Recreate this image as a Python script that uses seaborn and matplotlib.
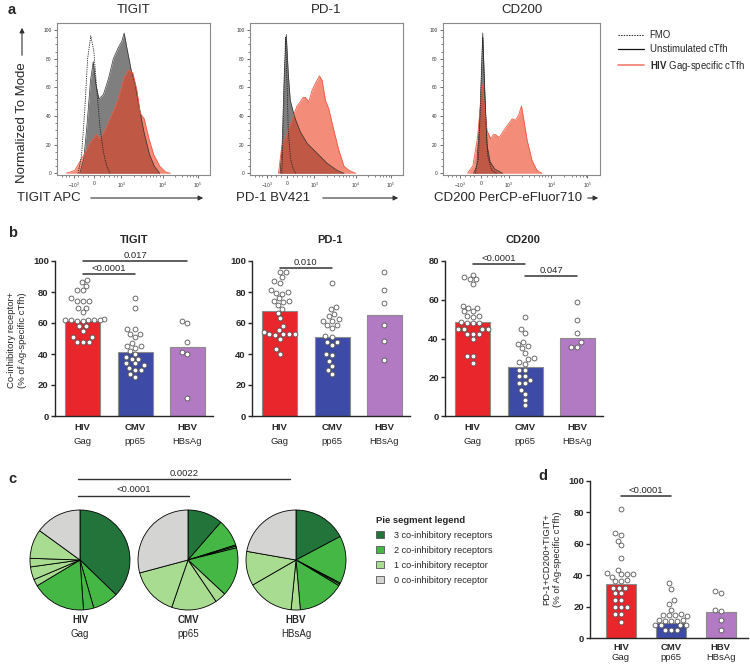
import numpy as np
import pandas as pd
import matplotlib
matplotlib.use("Agg")
import matplotlib.pyplot as plt
import seaborn as sns
from matplotlib.lines import Line2D
from matplotlib.patches import Patch, FancyArrowPatch

# ------------------------------------------------------------------
# data
# ------------------------------------------------------------------
groups = ["HIV", "CMV", "HBV"]
antigens = ["Gag", "pp65", "HBsAg"]
bar_colors = ["#e8262b", "#3d4ba6", "#b27ac3"]

# panel a : histograms (x = channel position 0-100, y = % of mode)
tigit_fmo_x = [13.8, 16.0, 18.2, 20.0, 22.1, 24.1, 25.9, 28.1, 30.3, 32.5, 34.6]
tigit_fmo_y = [0, 12, 45, 80, 96, 85, 60, 32, 15, 5, 0]
tigit_unst_x = [14.9, 17.5, 19.7, 21.9, 23.7, 25.4, 27.4, 30.3, 33.6, 36.8, 40.1,
                42.3, 43.9, 45.6, 48.5, 51.1, 53.9, 57.0, 60.5, 63.6, 67.1]
tigit_unst_y = [0, 10, 35, 65, 78, 62, 52, 55, 66, 80, 88, 92, 98, 88, 72, 62,
                45, 28, 13, 5, 0]
tigit_hiv_x = [6.1, 11.6, 16.0, 19.3, 22.6, 25.9, 28.1, 31.4, 34.6, 37.9, 39.0, 41.2,
               43.9, 46.7, 49.6, 52.2, 54.4, 57.0, 59.9, 63.2, 67.1, 70.8, 74.1]
tigit_hiv_y = [0, 2, 10, 16, 23, 27, 24, 30, 38, 46, 49, 56, 67, 72, 70, 58, 42,
               38, 25, 13, 5, 1, 0]

pd1_fmo_x = [20.8, 21.9, 23.2, 24.3, 25.0, 26.5, 28.5, 30.0]
pd1_fmo_y = [0, 40, 95, 60, 30, 10, 2, 0]
pd1_unst_x = [19.7, 21.0, 22.4, 23.7, 25.0, 26.3, 28.5, 29.6, 32.9, 37.3, 43.9,
              50.4, 57.0, 61.4]
pd1_unst_y = [0, 20, 70, 97, 70, 51, 42, 38, 29, 21, 14, 7, 2, 0]
pd1_hiv_x = [18.6, 20.8, 24.1, 27.4, 30.7, 32.9, 34.6, 36.2, 38.4, 40.6, 42.8,
             45.4, 47.1, 49.3, 51.5, 54.8, 58.1, 61.4, 64.7, 69.1]
pd1_hiv_y = [0, 19, 27, 37, 47, 50, 53, 53, 50, 58, 63, 68, 65, 51, 45, 30, 16,
             5, 2, 0]

cd200_fmo_x = [20.5, 22.5, 24.0, 25.3, 26.8, 28.5, 31.0, 34.0]
cd200_fmo_y = [0, 10, 50, 95, 50, 12, 2, 0]
cd200_unst_x = [19.5, 21.5, 23.5, 25.3, 26.5, 28.0, 30.0, 33.0, 38.0]
cd200_unst_y = [0, 5, 40, 98, 60, 20, 8, 3, 0]
cd200_hiv_x = [15.6, 19.0, 22.0, 24.0, 25.1, 26.5, 28.0, 30.4, 32.0, 33.5, 35.7,
               38.8, 42.0, 44.1, 46.2, 48.3, 50.0, 51.5, 53.6, 56.7, 59.9, 63.0]
cd200_hiv_y = [0, 5, 25, 50, 62, 45, 30, 24, 27, 27, 25, 30, 35, 38, 37, 41, 47,
               37, 23, 9, 2, 0]

hist_tick_pos = [11, 24, 42, 69, 92]
hist_tick_lab = [r"$-10^3$", "0", r"$10^3$", r"$10^4$", r"$10^5$"]

# panel b : co-inhibitory receptor+ (% of Ag-specific cTfh)
tigit_hiv = [88, 86.5, 84, 81, 81, 76, 74, 74.5, 74.5, 70, 69.5, 67, 62.5, 62, 62,
             62, 62, 62, 61.5, 61, 58, 58, 55, 51, 51, 48, 48, 48]
tigit_cmv = [76, 70, 56, 56, 53, 53, 51, 47, 45, 45, 44, 42, 40, 38, 37, 37, 34,
             34, 33, 31, 30, 30, 27, 25]
tigit_hbv = [61.5, 60, 47.5, 41.5, 40, 11.5]
tigit_bars = [61.5, 41.3, 44.3]

pd1_hiv = [93, 93, 89.5, 87, 86, 81, 80, 79.5, 79, 76, 74, 74, 73.5, 71.5, 69,
           66.5, 63, 58, 55.5, 54, 53, 53, 53, 53, 52.5, 50, 43, 40]
pd1_cmv = [86, 70.5, 69, 66, 64.5, 62.5, 61.5, 61.5, 59, 59, 57, 51.5, 51, 48, 48,
           46, 39.5, 40, 35.5, 32.5, 29.5, 27]
pd1_hbv = [93, 81.5, 73, 58.5, 48.5, 36]
pd1_bars = [67.5, 51, 65.4]

cd200_hiv = [73, 72, 70.5, 70.5, 68, 57, 56, 56, 54, 54, 51.5, 51.5, 51, 48.5, 48,
             48, 48, 45, 45, 45, 45, 42.5, 42.5, 42.5, 39.5, 31, 31, 27.5]
cd200_cmv = [51, 45, 43, 38, 37, 36, 35, 32.5, 30, 29.5, 28, 27, 23.5, 23.5, 20.5,
             20.5, 18.5, 17, 17, 13.5, 11.5, 8.5, 5.5]
cd200_hbv = [59, 49.5, 43, 38, 35.5, 35.5]
cd200_bars = [48.5, 25.3, 40.4]

# panel d : PD-1+CD200+TIGIT+
triple_hiv = [82, 67, 65.5, 62, 59, 51, 43.5, 41.5, 41, 41, 40.5, 39, 37, 36, 36,
              32, 32, 32, 28.5, 28.5, 24.5, 24.5, 20, 20, 20, 15.5, 15.5, 10.5]
triple_cmv = [35, 31.5, 24, 21.5, 18, 15, 14.5, 14.5, 14.5, 14, 11.5, 11.5, 11, 11,
              11, 8, 8, 8, 8, 5, 5, 5]
triple_hbv = [30, 28.5, 18, 17, 11.5, 5]
triple_bars = [34.3, 9.6, 16.6]

# panel c : pie segments (degrees, clockwise from 12 o'clock)
pie_hiv = [134, 30, 12, 63, 8, 15, 10, 34, 54]
pie_hiv_cls = [3, 2, 2, 2, 1, 1, 1, 1, 0]
pie_cmv = [41, 31.5, 1.5, 2, 57, 13, 53, 56, 105]
pie_cmv_cls = [3, 2, 2, 2, 2, 1, 1, 1, 0]
pie_hbv = [62, 55.5, 1.5, 2, 54, 10.7, 54.3, 40, 80]
pie_hbv_cls = [3, 2, 2, 2, 2, 1, 1, 1, 0]
pie_colors = {3: "#22743a", 2: "#45b745", 1: "#a8dc90", 0: "#d4d4d2"}
pie_legend = ["3 co-inhibitory receptors", "2 co-inhibitory receptors",
              "1 co-inhibitory receptor", "0 co-inhibitory receptor"]

# ------------------------------------------------------------------
sns.set_style("ticks")
plt.rcParams["font.family"] = ["Liberation Sans", "DejaVu Sans"]
plt.rcParams["mathtext.fontset"] = "custom"
plt.rcParams["mathtext.rm"] = "Liberation Sans"
plt.rcParams["mathtext.bf"] = "Liberation Sans:bold"
plt.rcParams["axes.linewidth"] = 1.0

W, H = 750, 666
fig = plt.figure(figsize=(7.5, 6.66), dpi=100)


def box(l, t, r, b):
    return [l / W, 1 - b / H, (r - l) / W, (b - t) / H]


def fx(x):
    return x / W


def fy(y):
    return 1 - y / H


def fig_arrow(x1, y1, x2, y2):
    fig.add_artist(FancyArrowPatch((fx(x1), fy(y1)), (fx(x2), fy(y2)),
                                   transform=fig.transFigure, arrowstyle="-|>",
                                   mutation_scale=7, lw=0.8, color="#333333"))


# ---------------- panel a ----------------
def hist_panel(rect, title, fmo, unst, hiv):
    ax = fig.add_axes(box(*rect))
    ax.fill_between(unst[0], unst[1], color="#7f7f7f", lw=0)
    ax.plot(unst[0], unst[1], color="#333333", lw=0.5)
    ax.fill_between(hiv[0], hiv[1], color="#eb3f1e", alpha=0.6, lw=0)
    ax.plot(hiv[0], hiv[1], color="#ee5a45", lw=0.6)
    ax.plot(fmo[0], fmo[1], color="#222222", lw=0.6, ls=(0, (1.5, 1.2)))
    ax.set_xlim(0, 100)
    ax.set_ylim(-1.2, 105)
    ax.set_xticks(hist_tick_pos)
    ax.set_xticklabels(hist_tick_lab)
    ax.set_yticks([0, 20, 40, 60, 80, 100])
    ax.set_yticks(range(0, 101, 5), minor=True)
    ax.set_xticks([3, 6, 8, 14, 17, 20, 28, 31, 34, 37, 39, 50, 55, 58, 61, 63, 65,
                   67, 77, 82, 85, 87, 89, 91], minor=True)
    ax.tick_params(labelsize=3.5, length=2.5, width=0.5, pad=1.5, colors="#333333")
    ax.tick_params(which="minor", length=1.3, width=0.4)
    for s in ax.spines.values():
        s.set_color("#8a8a8a")
        s.set_linewidth(0.8)
    fig.text(fx((rect[0] + rect[2]) / 2), fy(10), title, ha="center", va="center",
             fontsize=9.5)
    return ax


hist_panel([57, 23, 210, 175], "TIGIT", (tigit_fmo_x, tigit_fmo_y),
           (tigit_unst_x, tigit_unst_y), (tigit_hiv_x, tigit_hiv_y))
hist_panel([250, 23, 403, 175], "PD-1", (pd1_fmo_x, pd1_fmo_y),
           (pd1_unst_x, pd1_unst_y), (pd1_hiv_x, pd1_hiv_y))
hist_panel([443, 23, 600, 175], "CD200", (cd200_fmo_x, cd200_fmo_y),
           (cd200_unst_x, cd200_unst_y), (cd200_hiv_x, cd200_hiv_y))

fig.text(fx(17), fy(198), "TIGIT APC", ha="left", va="center", fontsize=9.5)
fig_arrow(88, 198, 206, 198)
fig.text(fx(236), fy(198), "PD-1 BV421", ha="left", va="center", fontsize=9.5)
fig_arrow(320, 198, 401, 198)
fig.text(fx(434), fy(198), "CD200 PerCP-eFluor710", ha="left", va="center",
         fontsize=9.5)
fig_arrow(585, 198, 601, 198)
fig.text(fx(22), fy(123), "Normalized To Mode", rotation=90, ha="center",
         va="center", fontsize=9.5)
fig_arrow(22, 58, 22, 25)

hist_handles = [Line2D([], [], color="#222222", lw=0.7, ls=(0, (1.5, 1.2))),
                Line2D([], [], color="#111111", lw=0.9),
                Line2D([], [], color="#f08070", lw=1.2)]
fig.legend(hist_handles, ["FMO", "Unstimulated cTfh",
                          r"$\mathbf{HIV}$ Gag-specific cTfh"],
           loc="upper left", bbox_to_anchor=(fx(618), fy(30)), frameon=False,
           fontsize=6.9, handlelength=2.7, handletextpad=0.6, labelspacing=0.45,
           borderpad=0, borderaxespad=0)


# ---------------- panels b and d ----------------
def bar_panel(rect, vals, bars, ymax, sigs, width, xlim, lab_off=(12, 25)):
    ax = fig.add_axes(box(*rect))
    df = pd.DataFrame({"group": np.repeat(groups, [len(v) for v in vals]),
                       "value": np.concatenate(vals)})
    sns.barplot(x=groups, y=bars, hue=groups, palette=bar_colors, width=width,
                saturation=1, edgecolor="#8c8c8c", linewidth=0.8, legend=False,
                ax=ax)
    sns.swarmplot(data=df, x="group", y="value", order=groups, color="white",
                  edgecolor="#555555", linewidth=0.6, size=3.5, ax=ax)
    ax.set_xlim(*xlim)
    ax.set_ylim(0, ymax)
    ax.set_yticks(range(0, ymax + 1, 20))
    ax.set_xlabel("")
    ax.set_ylabel("")
    ax.set_xticks([0, 1, 2])
    ax.set_xticklabels([])
    ax.tick_params(axis="x", length=0)
    ax.tick_params(axis="y", length=3, width=1, pad=1.5, labelsize=6.8)
    for lab in ax.get_yticklabels():
        lab.set_fontweight("bold")
    sns.despine(ax=ax)
    trans = ax.get_xaxis_transform()
    h = rect[3] - rect[1]
    for i in range(3):
        ax.text(i, -lab_off[0] / h, groups[i], transform=trans, ha="center",
                va="center", fontsize=6.8, fontweight="bold")
        ax.text(i, -lab_off[1] / h, antigens[i], transform=trans, ha="center",
                va="center", fontsize=6.8)
    for text, a, b, y in sigs:
        ax.plot([a, b], [y, y], color="#333333", lw=1.1, clip_on=False)
        ax.annotate(text, xy=((a + b) / 2, y), xytext=(0, 0.8),
                    textcoords="offset points", ha="center", va="bottom",
                    fontsize=6.8, annotation_clip=False)
    return ax


b_xlim = (-0.53, 2.49)
bar_panel([55, 261, 213, 416], [tigit_hiv, tigit_cmv, tigit_hbv], tigit_bars,
          100, [("<0.0001", 0, 1, 91.5), ("0.017", 0, 2, 100)], 0.67, b_xlim)
bar_panel([252, 261, 410, 416], [pd1_hiv, pd1_cmv, pd1_hbv], pd1_bars,
          100, [("0.010", 0, 1, 95.5)], 0.67, b_xlim)
bar_panel([445, 261, 603, 416], [cd200_hiv, cd200_cmv, cd200_hbv], cd200_bars,
          80, [("<0.0001", 0, 1, 78.5), ("0.047", 1, 2, 72.3)], 0.67, b_xlim)
fig.text(fx(134), fy(240), "TIGIT", ha="center", va="center", fontsize=8,
         fontweight="bold")
fig.text(fx(330), fy(240), "PD-1", ha="center", va="center", fontsize=8,
         fontweight="bold")
fig.text(fx(523), fy(240), "CD200", ha="center", va="center", fontsize=8,
         fontweight="bold")
fig.text(fx(17), fy(340), "Co-inhibitory receptor+\n(% of Ag-specific cTfh)",
         rotation=90, ha="center", va="center", fontsize=6.8, linespacing=1.15)

bar_panel([590, 481, 748, 638], [triple_hiv, triple_cmv, triple_hbv],
          triple_bars, 100, [("<0.0001", 0, 1, 90.4)], 0.6, (-0.62, 2.55),
          lab_off=(10, 20))
fig.text(fx(552), fy(559), "PD-1+CD200+TIGIT+\n(% of Ag-specific cTfh)",
         rotation=90, ha="center", va="center", fontsize=6.8, linespacing=1.15)

# ---------------- panel c ----------------
pie_centres = [80, 188, 296]
for cx, vals, cls, g, a in zip(pie_centres, [pie_hiv, pie_cmv, pie_hbv],
                               [pie_hiv_cls, pie_cmv_cls, pie_hbv_cls],
                               groups, antigens):
    pax = fig.add_axes(box(cx - 51, 509, cx + 51, 611))
    pax.pie(vals, colors=[pie_colors[c] for c in cls], startangle=90,
            counterclock=False, radius=1,
            wedgeprops=dict(edgecolor="black", linewidth=0.6))
    pax.set_xlim(-1.02, 1.02)
    pax.set_ylim(-1.02, 1.02)
    fig.text(fx(cx), fy(620), g, ha="center", va="center", fontsize=7,
             fontweight="bold")
    fig.text(fx(cx), fy(634), a, ha="center", va="center", fontsize=7)

for text, x1, x2, y in [("0.0022", 78, 290, 479), ("<0.0001", 78, 189, 496)]:
    fig.add_artist(Line2D([fx(x1), fx(x2)], [fy(y), fy(y)], color="#333333",
                          lw=1.0, transform=fig.transFigure))
    fig.text(fx((x1 + x2) / 2), fy(y - 1.5), text, ha="center", va="bottom",
             fontsize=6.8)

pie_handles = [Patch(facecolor=pie_colors[c], edgecolor="#555555", lw=0.6)
               for c in [3, 2, 1, 0]]
fig.legend(pie_handles, pie_legend, loc="upper left",
           bbox_to_anchor=(fx(376), fy(516)), frameon=False, fontsize=6.6,
           title="Pie segment legend", alignment="left",
           title_fontproperties={"weight": "bold", "size": 6.8},
           handlelength=0.85, handleheight=0.85, handletextpad=1.1,
           labelspacing=0.65, borderpad=0, borderaxespad=0)

# panel letters
for letter, x, y in [("a", 8, 10), ("b", 8, 233), ("c", 8, 479), ("d", 538, 476)]:
    fig.text(fx(x), fy(y), letter, ha="left", va="center", fontsize=10.5,
             fontweight="bold")

fig.savefig("out.png", dpi=100)
